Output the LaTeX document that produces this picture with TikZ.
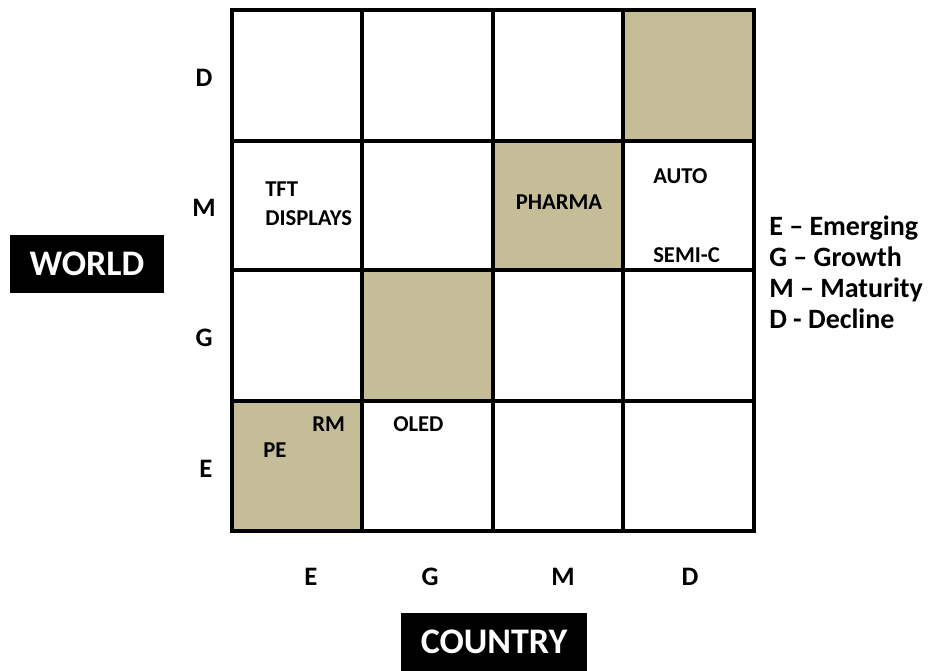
\documentclass[tikz,border=0pt]{standalone}
\usepackage{fontspec}
\setmainfont{Carlito}
\definecolor{tan}{RGB}{196,189,151}
\begin{document}
\begin{tikzpicture}[x=0.75pt,y=-0.75pt,
  grid/.style={line width=3.7pt,line cap=rect},
  lab/.style={font=\bfseries\fontsize{17}{19}\selectfont,inner sep=0pt},
  axis/.style={font=\bfseries\fontsize{20}{22}\selectfont,inner sep=0pt},
  legend/.style={font=\bfseries\fontsize{21}{23}\selectfont,inner sep=0pt,anchor=base west},
  titlebox/.style={fill=black,text=white,font=\bfseries\fontsize{27}{29}\selectfont,inner sep=0pt}]
\useasboundingbox (0,0) rectangle (929,671);
% shaded cells
\fill[tan] (623,10) rectangle (754,141);
\fill[tan] (493,141) rectangle (623,270);
\fill[tan] (362,270) rectangle (493,401);
\fill[tan] (232,401) rectangle (362,531);
% grid
\foreach \x in {232,362,493,623,754} \draw[grid] (\x,10) -- (\x,531);
\foreach \y in {10,141,270,401,531} \draw[grid] (232,\y) -- (754,\y);
% cell labels
\node[lab,anchor=west] (tft) at (265,189) {TFT};
\node[lab,anchor=west] (disp) at (265,218) {DISPLAYS};
\node[lab] (pharma) at (559,202) {PHARMA};
\node[lab,anchor=west] (auto) at (653,176) {AUTO};
\node[lab,anchor=west] (semic) at (653,255) {SEMI-C};
\node[lab,anchor=west] (rm) at (312,424) {RM};
\node[lab,anchor=west] (pe) at (263,450) {PE};
\node[lab,anchor=west] (oled) at (393,424) {OLED};
% row labels
\node[axis] (rD) at (204,78) {D};
\node[axis] (rM) at (204,208) {M};
\node[axis] (rG) at (204,338) {G};
\node[axis] (rE) at (206,469) {E};
% column labels
\node[axis] (cE) at (311,577) {E};
\node[axis] (cG) at (430,577) {G};
\node[axis] (cM) at (563,577) {M};
\node[axis] (cD) at (690,577) {D};
% legend
\node[legend] (l1) at (769,235) {E – Emerging};
\node[legend] (l2) at (769,266) {G – Growth};
\node[legend] (l3) at (769,297) {M – Maturity};
\node[legend] (l4) at (769,328) {D - Decline};
% titles
\node[titlebox,minimum width=154*0.75pt,minimum height=58*0.75pt] (world) at (87,264) {WORLD};
\node[titlebox,minimum width=186*0.75pt,minimum height=58*0.75pt] (country) at (494,642) {COUNTRY};
\end{tikzpicture}
\end{document}
